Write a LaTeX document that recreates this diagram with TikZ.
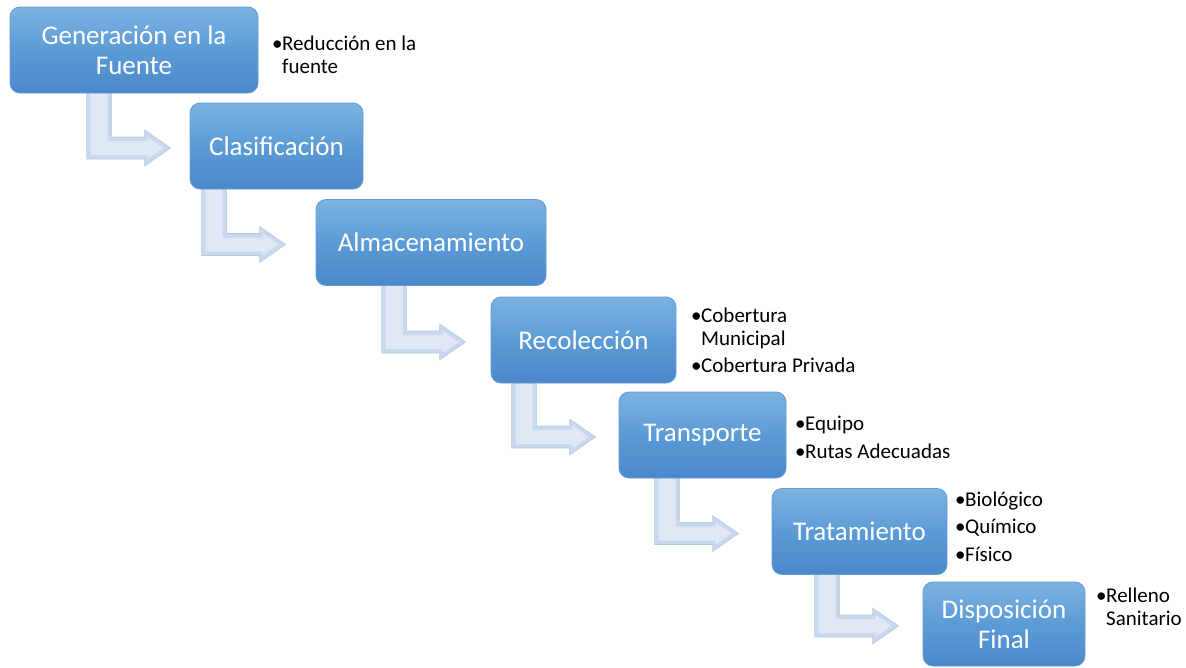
\documentclass[tikz,border=0pt]{standalone}
\usepackage{fontspec}
\setmainfont{Carlito}
\usetikzlibrary{positioning,calc,backgrounds}

\definecolor{boxtop}{HTML}{7DB2E2}
\definecolor{boxmid}{HTML}{5B9BD5}
\definecolor{boxbot}{HTML}{4B88CB}
\definecolor{boxrim}{HTML}{629CD5}
\definecolor{arrowfill}{HTML}{C9D8EC}
\definecolor{arrowlight}{HTML}{DFE8F4}
\definecolor{arrowrim}{HTML}{B7CAE3}

\tikzset{
  stepbox/.style={rectangle, rounded corners=10pt, draw=boxrim, line width=0.8pt,
    top color=boxtop, bottom color=boxbot, middle color=boxmid,
    text=white, font=\fontsize{27}{30}\selectfont, align=center,
    inner sep=0pt, minimum height=86pt},
  items/.style={anchor=base west, align=left, inner sep=0pt,
    font=\fontsize{21}{23}\selectfont},
  bent/.style={fill=arrowfill, draw=arrowrim, line width=0.6pt, line join=miter},
  bentlight/.style={fill=arrowlight, draw=none}
}
\newcommand{\bul}{\makebox[10pt][l]{•}}
\newcommand{\ind}{\hspace*{10pt}}

\begin{document}
\begin{tikzpicture}[x=1pt,y=-1pt]
  \useasboundingbox (0,0) rectangle (1186,667);
  % pasos
  \node[stepbox, minimum width=248pt] (gen) at (134,50) {Generación en la\\Fuente};
  \node[stepbox, minimum width=173pt] (clas) at (276.5,146) {Clasificación};
  \node[stepbox, minimum width=230pt] (alm) at (431,242.5) {Almacenamiento};
  \node[stepbox, minimum width=185pt] (rec) at (583.5,340) {Recolección};
  \node[stepbox, minimum width=167pt] (trans) at (702.5,435) {Transporte};
  \node[stepbox, minimum width=175pt] (trat) at (859.5,531.5) {Tratamiento};
  \node[stepbox, minimum width=162pt, minimum height=84pt] (disp) at (1004,624) {Disposición\\Final};
  % listas (base = ultima linea)
  \node[items] (genL) at (272,73) {\bul Reducción en la\\\ind fuente};
  \node[items] (recL) at (691,372) {\bul Cobertura\\\ind Municipal\\[4pt]\bul Cobertura Privada};
  \node[items] (transL) at (795,458) {\bul Equipo\\[4.5pt]\bul Rutas Adecuadas};
  \node[items] (tratL) at (955,561) {\bul Biológico\\[4.5pt]\bul Químico\\[4.5pt]\bul Físico};
  \node[items] (dispL) at (1096,625) {\bul Relleno\\\ind Sanitario};
  % flechas
  \begin{scope}[on background layer]
    \foreach \a/\b/\d in {gen/clas/103,clas/alm/114,alm/rec/109,rec/trans/107,trans/trat/117,trat/disp/108}{
      \coordinate (m) at ($(\b.west)+(-\d,2)$);
      \draw[bent] ($(m |- \a.south)+(0,-2)$) -- ++(25,0) -- ($(m)+(25,-11)$)
        -- ($(m)+(58,-11)$) -- ($(m)+(58,-18)$) -- ($(m)+(84,0)$)
        -- ($(m)+(58,18)$) -- ($(m)+(58,11)$) -- ($(m)+(0,11)$) -- cycle;
      \fill[bentlight] ($(m |- \a.south)+(4,-2)$) -- ++(17,0) -- ($(m)+(21,-7)$)
        -- ($(m)+(61,-7)$) -- ($(m)+(61,-11)$) -- ($(m)+(77,0)$)
        -- ($(m)+(61,11)$) -- ($(m)+(61,7)$) -- ($(m)+(4,7)$) -- cycle;
    }
  \end{scope}
\end{tikzpicture}
\end{document}
